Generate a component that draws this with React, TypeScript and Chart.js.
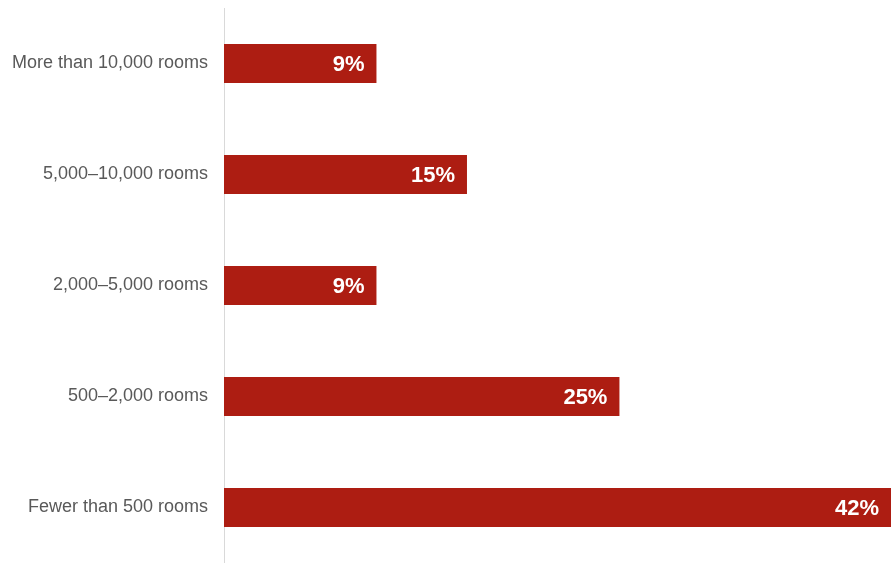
import React, { useEffect, useRef } from "react";
import { Chart, registerables } from "chart.js";

Chart.register(...registerables);

const categories = [
  "More than 10,000 rooms",
  "5,000–10,000 rooms",
  "2,000–5,000 rooms",
  "500–2,000 rooms",
  "Fewer than 500 rooms",
];
const values = [9.6, 15.3, 9.6, 24.9, 42];
const valueLabels = ["9%", "15%", "9%", "25%", "42%"];

const barColor = "#AD1D12";

const valueLabelPlugin = {
  id: "valueLabels",
  afterDatasetsDraw(chart: any) {
    const ctx = chart.ctx;
    const meta = chart.getDatasetMeta(0);
    ctx.save();
    ctx.fillStyle = "#ffffff";
    ctx.font = "bold 22px 'Liberation Sans', Arial, sans-serif";
    ctx.textAlign = "right";
    ctx.textBaseline = "middle";
    meta.data.forEach((bar: any, i: number) => {
      ctx.fillText(valueLabels[i], bar.x - 12, bar.y + 1);
    });
    ctx.restore();
  },
};

export default function App() {
  const ref = useRef<HTMLCanvasElement | null>(null);
  useEffect(() => {
    if (!ref.current) return;
    const chart = new Chart(ref.current, {
      type: "bar",
      data: {
        labels: categories,
        datasets: [
          {
            data: values,
            backgroundColor: barColor,
            barPercentage: 0.35,
            categoryPercentage: 1,
          },
        ],
      },
      options: {
        indexAxis: "y",
        animation: false,
        responsive: false,
        maintainAspectRatio: false,
        layout: { padding: { top: 8, right: 0, bottom: 0, left: 0 } },
        plugins: { legend: { display: false }, tooltip: { enabled: false } },
        scales: {
          x: { display: false, min: 0, max: 42 },
          y: {
            afterFit: (scale: any) => {
              scale.width = 224;
              scale.paddingTop = 0;
              scale.paddingBottom = 0;
            },
            grid: { display: false, drawTicks: false },
            border: { display: true, color: "#d9d9d9", width: 1 },
            ticks: {
              padding: 16,
              color: "#595959",
              font: { family: "'Liberation Sans', Arial, sans-serif", size: 18 },
            },
          },
        },
      },
      plugins: [valueLabelPlugin],
    });
    return () => chart.destroy();
  }, []);
  return (
    <div style={{ position: "absolute", left: 0, top: 0, width: 891, height: 563, background: "#fff" }}>
      <canvas ref={ref} width={891} height={563} />
    </div>
  );
}
